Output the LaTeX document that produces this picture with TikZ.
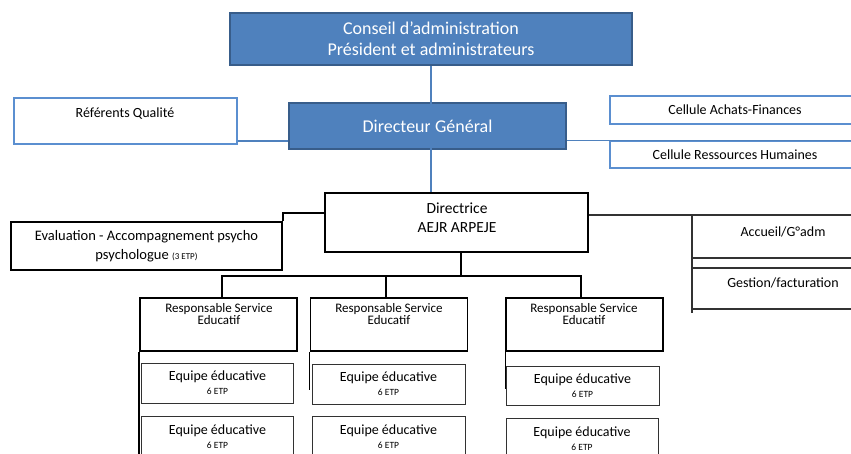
\documentclass[tikz,border=0pt]{standalone}
\usepackage{fontspec}
\setmainfont{Carlito}
\definecolor{dgfill}{RGB}{79,129,189}
\definecolor{dgborder}{RGB}{56,93,138}
\definecolor{lightb}{RGB}{91,143,208}
\definecolor{darkg}{RGB}{50,50,50}
\begin{document}
\begin{tikzpicture}[x=1pt,y=-1pt,
  bluebox/.style={draw=dgborder, fill=dgfill, line width=1.6pt, inner sep=0pt, text=white,
    font=\fontsize{18}{22}\selectfont, align=center},
  lbbox/.style={draw=lightb, line width=1.5pt, inner sep=0pt, font=\fontsize{14}{16}\selectfont},
  blkbox/.style={draw=black, line width=1.8pt, inner sep=0pt},
  thinbox/.style={draw=darkg, line width=1pt, inner sep=0pt, align=center,
    font=\fontsize{14}{15}\selectfont},
  gbox/.style={draw=darkg, line width=1.4pt, inner sep=0pt},
  bconn/.style={draw=dgfill, line width=1.5pt},
  kconn/.style={draw=black, line width=1.8pt},
  gconn/.style={draw=darkg, line width=1.4pt},
  small/.style={font=\fontsize{14}{16}\selectfont, inner sep=0pt, align=center},
  rsetext/.style={font=\fontsize{13}{12}\selectfont, inner sep=0pt, align=center},
]
\useasboundingbox (0,0) rectangle (851,454);
\clip (0,0) rectangle (851,454);

% top level
\node[bluebox, minimum width=402pt, minimum height=52pt] (ca) at (431,39)
  {Conseil d’administration\\[-1pt]Président et administrateurs};
\node[bluebox, minimum width=277pt, minimum height=46pt] (dg) at (427.5,126) {Directeur Général};

\node[lbbox, minimum width=223pt, minimum height=46pt] (rq) at (125.5,121) {};
\node[small] (rqt) at (125,114) {Référents Qualité};

\node[lbbox, minimum width=250pt, minimum height=28pt] (caf) at (735,110) {Cellule Achats-Finances};
\node[lbbox, minimum width=250pt, minimum height=27pt] (crh) at (735,154.5) {Cellule Ressources Humaines};

% directrice
\node[blkbox, minimum width=263pt, minimum height=59pt] (dir) at (456.5,222.5) {};
\node[font=\fontsize{15.5}{19}\selectfont, inner sep=0pt, align=center] (dirt) at (457,218)
  {Directrice\\AEJR ARPEJE};

\node[blkbox, minimum width=271pt, minimum height=48pt, align=center,
  font=\fontsize{14.5}{19}\selectfont] (ev) at (146.5,246)
  {Evaluation - Accompagnement psycho\\psychologue {\fontsize{9}{10}\selectfont (3 ETP)}};

\node[gbox, minimum width=180pt, minimum height=43pt] (acc) at (782,236.5) {};
\node[small] (acct) at (783,232) {Accueil/G°adm};
\node[gbox, minimum width=180pt, minimum height=41pt] (ges) at (782,288.5) {};
\node[small] (gest) at (783,283) {Gestion/facturation};

% connectors top
\draw[bconn] (ca.south -| 431,0) -- (dir.north -| 431,0);
\draw[bconn] (rq.east |- 0,141) -- (dg.west |- 0,141);
\draw[bconn] (dg.east |- 0,140.5) -- (851,140.5);
\draw[kconn] (dir.west |- 0,213) -| (ev.north east);
\coordinate (rv) at (692,215);
\draw[gconn] (dir.east |- rv) -- (rv) -- (692,313);

% bus
\coordinate (bus) at (461,276);
\coordinate (b1) at (222,276);
\coordinate (b2) at (386,276);
\coordinate (b3) at (581,276);

% RSE boxes
\node[blkbox, minimum width=157pt, minimum height=53pt] (r1) at (218.5,324.5) {};
\node[blkbox, minimum width=157pt, minimum height=53pt] (r2) at (389,324.5) {};
\node[blkbox, minimum width=157pt, minimum height=53pt] (r3) at (584.5,324.5) {};
\node[rsetext] (r1t) at (219,314) {Responsable Service\\Educatif};
\node[rsetext] (r2t) at (389,314) {Responsable Service\\Educatif};
\node[rsetext] (r3t) at (584,314) {Responsable Service\\Educatif};

\draw[kconn] (dir.south -| bus) -- (bus);
\draw[kconn] (r1.north -| b1) -- (b1) -- (b3) -- (r3.north -| b3);
\draw[kconn] (b2) -- (r2.north -| b2);

% Equipe boxes
\newcommand{\eqtxt}{Equipe éducative\\[-1pt]{\fontsize{9.5}{10}\selectfont 6 ETP}}
\node[thinbox, minimum width=152pt, minimum height=40pt] (e11) at (217.5,383) {\eqtxt};
\node[thinbox, minimum width=152pt, minimum height=41pt] (e12) at (217.5,436.5) {\eqtxt};
\node[thinbox, minimum width=153pt, minimum height=40pt] (e21) at (388.5,384) {\eqtxt};
\node[thinbox, minimum width=153pt, minimum height=41pt] (e22) at (388.5,436.5) {\eqtxt};
\node[thinbox, minimum width=153pt, minimum height=39pt] (e31) at (582.5,385.5) {\eqtxt};
\node[thinbox, minimum width=152pt, minimum height=41pt] (e32) at (582,438.5) {\eqtxt};

\draw[line width=1.4pt] (r1.south west) -- (r1.south west |- 0,456);
\draw[line width=1.4pt] (r2.south west) -- (r2.south west |- 0,390);
\draw[line width=1.2pt] (r3.south west) -- (r3.south west |- 0,389);
\end{tikzpicture}
\end{document}
